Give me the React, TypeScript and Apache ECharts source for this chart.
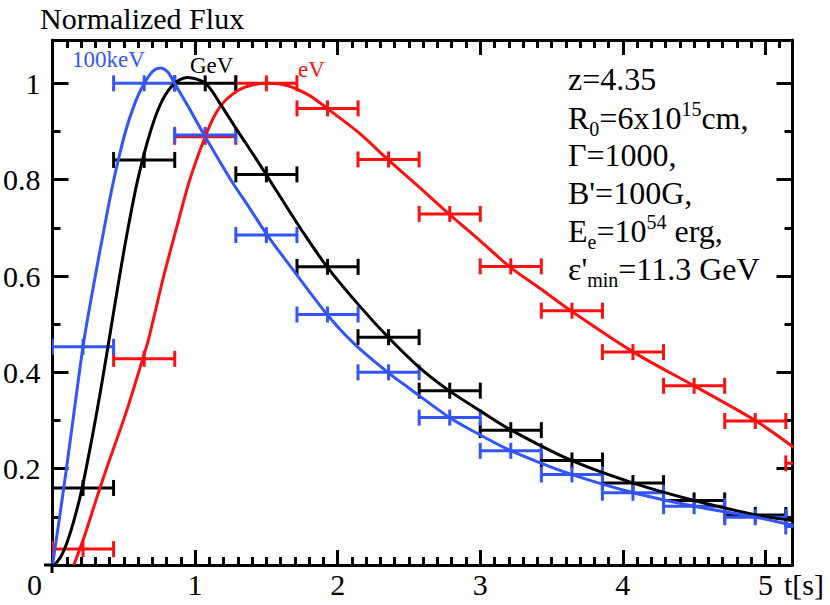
import React, { useEffect, useRef } from "react";
import * as echarts from "echarts";

const FONT = "Liberation Serif";

const xMin = 0;
const xMax = 5.19;
const yMin = 0;
const yMax = 1.09;
const xMajor = 1;
const xMinor = 0.1;
const yMajor = 0.2;
const yMinor = 0.1;

const binCenters = [0.214, 0.643, 1.071, 1.5, 1.929, 2.357, 2.786, 3.214, 3.643, 4.071, 4.5, 4.929, 5.357];
const binHalfWidth = 0.2143;

const keVBins = [0.453, 1.0, 0.893, 0.685, 0.52, 0.4, 0.306, 0.237, 0.188, 0.15, 0.122, 0.099, 0.08];
const GeVBins = [0.16, 0.841, 1.0, 0.811, 0.619, 0.473, 0.362, 0.28, 0.217, 0.17, 0.134, 0.104, 0.096];
const eVBins = [0.033, 0.428, 0.889, 1.0, 0.948, 0.842, 0.729, 0.62, 0.528, 0.442, 0.372, 0.299, 0.211];

const keVCurve: number[][] = [
  [0, 0], [0.05, 0.1], [0.1, 0.205], [0.15, 0.315], [0.22, 0.465], [0.3, 0.6],
  [0.36, 0.695], [0.43, 0.8], [0.512, 0.9], [0.582, 0.962], [0.636, 0.996], [0.7, 1.024],
  [0.757, 1.032], [0.81, 1.023], [0.856, 1.0], [0.95, 0.953], [1.05, 0.9], [1.25, 0.8],
  [1.38, 0.742], [1.506, 0.685], [1.704, 0.606], [1.926, 0.52], [2.113, 0.46], [2.347, 0.401],
  [2.511, 0.365], [2.781, 0.307], [3.0, 0.27], [3.217, 0.237], [3.64, 0.188], [4.074, 0.15],
  [4.5, 0.122], [4.934, 0.099], [5.2, 0.082],
];

const GeVCurve: number[][] = [
  [0.015, 0], [0.06, 0.018], [0.1, 0.045], [0.15, 0.092], [0.208, 0.16], [0.278, 0.265],
  [0.33, 0.35], [0.39, 0.455], [0.465, 0.59], [0.524, 0.69], [0.598, 0.8], [0.687, 0.9],
  [0.769, 0.964], [0.856, 1.0], [0.945, 1.012], [1.073, 1.0], [1.18, 0.956], [1.29, 0.905],
  [1.4, 0.856], [1.5, 0.81], [1.594, 0.766], [1.75, 0.694], [1.926, 0.619], [2.15, 0.539],
  [2.351, 0.474], [2.57, 0.411], [2.781, 0.362], [3.0, 0.32], [3.217, 0.28], [3.64, 0.217],
  [4.074, 0.17], [4.5, 0.134], [4.934, 0.104], [5.2, 0.092],
];

const eVCurve: number[][] = [
  [0.15, 0], [0.231, 0.066], [0.3, 0.13], [0.383, 0.204], [0.52, 0.32], [0.64, 0.435],
  [0.675, 0.47], [0.78, 0.6], [0.87, 0.7], [0.963, 0.8], [1.061, 0.882], [1.14, 0.935],
  [1.225, 0.968], [1.35, 0.992], [1.506, 1.0], [1.65, 0.995], [1.8, 0.975], [1.926, 0.948],
  [2.15, 0.897], [2.351, 0.842], [2.57, 0.785], [2.78, 0.729], [3.0, 0.673], [3.207, 0.619],
  [3.42, 0.574], [3.63, 0.529], [4.074, 0.442], [4.5, 0.372], [4.934, 0.299], [5.2, 0.244],
];

const BLUE = "#3355ff";
const RED = "#ff1010";
const BLACK = "#000000";

function makeBars(name: string, values: number[], color: string) {
  return {
    type: "custom",
    name,
    clip: true,
    z: 3,
    xAxisIndex: 0,
    yAxisIndex: 0,
    encode: { x: 0, y: 1 },
    data: binCenters.map((c, i) => [c, values[i], binHalfWidth]),
    renderItem: (_params: any, api: any) => {
      const c = api.value(0);
      const v = api.value(1);
      const hw = api.value(2);
      const a = api.coord([c - hw, v]);
      const b = api.coord([c + hw, v]);
      const m = api.coord([c, v]);
      const h = 8;
      const st = { stroke: color, lineWidth: 3, fill: "none" };
      return {
        type: "group",
        children: [
          { type: "line", shape: { x1: a[0], y1: a[1], x2: b[0], y2: b[1] }, style: st },
          { type: "line", shape: { x1: a[0], y1: a[1] - h, x2: a[0], y2: a[1] + h }, style: st },
          { type: "line", shape: { x1: b[0], y1: b[1] - h, x2: b[0], y2: b[1] + h }, style: st },
          { type: "line", shape: { x1: m[0], y1: m[1] - h, x2: m[0], y2: m[1] + h }, style: st },
        ],
      };
    },
  };
}

function makeCurve(name: string, data: number[][], color: string) {
  return {
    type: "line",
    name,
    data,
    xAxisIndex: 0,
    yAxisIndex: 0,
    showSymbol: false,
    symbol: "none",
    smooth: 0.3,
    clip: true,
    z: 4,
    lineStyle: { color, width: 3 },
  };
}

const axisLineStyle = { color: "#000", width: 3 };

function xAxisDef(position: string, major: boolean, showLine: boolean, labels: boolean) {
  return {
    type: "value",
    position,
    min: xMin,
    max: xMax,
    interval: major ? xMajor : xMinor,
    splitLine: { show: false },
    axisLine: { show: showLine, onZero: false, lineStyle: axisLineStyle },
    axisTick: { show: true, inside: true, length: major ? 15 : 8, lineStyle: { color: "#000", width: 3 } },
    axisLabel: labels
      ? {
          show: true,
          margin: 4,
          fontSize: 30,
          fontFamily: FONT,
          color: "#000",
          formatter: (v: number) => (v > 0.5 && Math.abs(v - Math.round(v)) < 1e-6 ? String(Math.round(v)) : ""),
        }
      : { show: false },
  };
}

function yAxisDef(position: string, major: boolean, showLine: boolean, labels: boolean) {
  return {
    type: "value",
    position,
    min: yMin,
    max: yMax,
    interval: major ? yMajor : yMinor,
    splitLine: { show: false },
    axisLine: { show: showLine, onZero: false, lineStyle: axisLineStyle },
    axisTick: { show: true, inside: true, length: major ? 16 : 8, lineStyle: { color: "#000", width: 3 } },
    axisLabel: labels
      ? {
          show: true,
          margin: 12,
          fontSize: 30,
          fontFamily: FONT,
          color: "#000",
          formatter: (v: number) => (v > 0.05 && v < 1.05 ? String(+v.toFixed(1)) : ""),
        }
      : { show: false },
  };
}

function annotation(text: string, y: number) {
  return {
    type: "text",
    x: 568,
    y,
    z: 10,
    style: {
      text,
      fill: "#000",
      fontSize: 32,
      fontFamily: FONT,
      align: "left",
      verticalAlign: "middle",
      rich: {
        m: { fontSize: 32, fontFamily: FONT, fill: "#000", lineHeight: 32, verticalAlign: "middle" },
        sup: { fontSize: 20, fontFamily: FONT, fill: "#000", lineHeight: 14, height: 14, verticalAlign: "top" },
        sub: { fontSize: 20, fontFamily: FONT, fill: "#000", lineHeight: 10, height: 10, verticalAlign: "bottom" },
      },
    },
  };
}

function label(text: string, x: number, y: number, color: string, size: number, align = "left") {
  return {
    type: "text",
    x,
    y,
    z: 10,
    style: { text, fill: color, fontSize: size, fontFamily: FONT, align, verticalAlign: "middle" },
  };
}

export default function App() {
  const ref = useRef<HTMLDivElement>(null);
  useEffect(() => {
    if (!ref.current) return;
    const chart = echarts.init(ref.current, undefined, { renderer: "svg" });
    chart.setOption({
      animation: false,
      backgroundColor: "#ffffff",
      textStyle: { fontFamily: FONT },
      grid: { left: 52, top: 40, width: 740.5, height: 525, containLabel: false },
      xAxis: [
        xAxisDef("bottom", true, true, true),
        xAxisDef("bottom", false, false, false),
        xAxisDef("top", true, true, false),
        xAxisDef("top", false, false, false),
      ],
      yAxis: [
        yAxisDef("left", true, true, true),
        yAxisDef("left", false, false, false),
        yAxisDef("right", true, true, false),
        yAxisDef("right", false, false, false),
      ],
      series: [
        makeBars("eV bins", eVBins, RED),
        makeBars("GeV bins", GeVBins, BLACK),
        makeBars("100keV bins", keVBins, BLUE),
        makeCurve("eV", eVCurve, RED),
        makeCurve("GeV", GeVCurve, BLACK),
        makeCurve("100keV", keVCurve, BLUE),
      ],
      graphic: [
        { type: "line", z: 10, shape: { x1: 44, y1: 565, x2: 53, y2: 565 }, style: { stroke: "#000", lineWidth: 3 } },
        { type: "line", z: 10, shape: { x1: 52, y1: 564, x2: 52, y2: 573 }, style: { stroke: "#000", lineWidth: 3 } },
        label("Normalized Flux", 40, 18, "#000", 30),
        label("0", 34.5, 584, "#000", 30, "center"),
        label("t[s]", 784, 584, "#000", 30),
        label("100keV", 72, 59, BLUE, 23),
        label("GeV", 190, 65, BLACK, 23),
        label("eV", 298, 69, RED, 23),
        annotation("{m|z=4.35}", 79),
        annotation("{m|R}{sub|0}{m|=6x10}{sup|15}{m|cm,}", 117.5),
        annotation("{m|Γ=1000,}", 155),
        annotation("{m|B'=100G,}", 193),
        annotation("{m|E}{sub|e}{m|=10}{sup|54}{m| erg,}", 231),
        annotation("{m|ε'}{sub|min}{m|=11.3 GeV}", 269),
      ],
    });
    return () => chart.dispose();
  }, []);
  return (
    <div
      ref={ref}
      style={{ position: "fixed", left: 0, top: 0, width: 830, height: 605, background: "#fff" }}
    />
  );
}
